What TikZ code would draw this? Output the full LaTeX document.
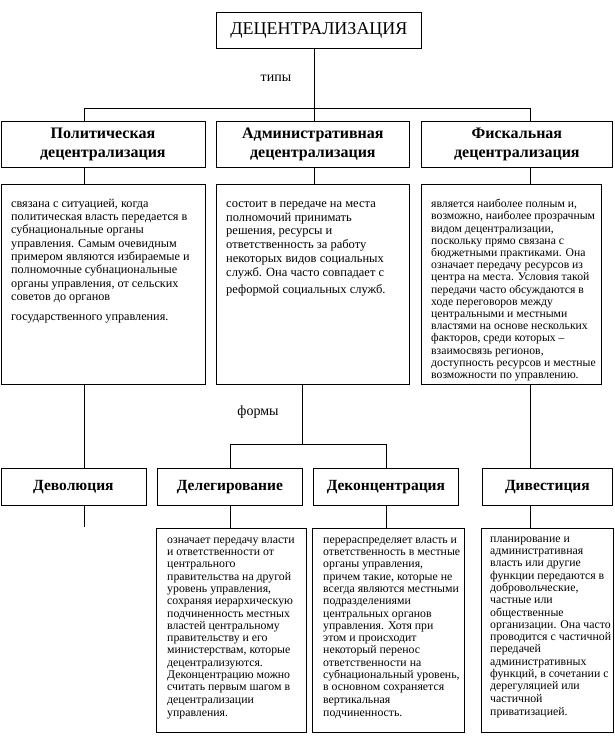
\documentclass[tikz,border=0pt]{standalone}
\usepackage{fontspec}
\setmainfont{Liberation Serif}
\newcommand{\firststrut}{\rule{0pt}{9pt}}
\begin{document}
\begin{tikzpicture}[x=1pt,y=-1pt,
  frame/.style={draw, line width=0.8pt, inner sep=0pt, anchor=north west},
  conn/.style={line width=0.8pt},
  headtxt/.style={font=\fontsize{16}{19}\selectfont\bfseries, align=center},
  formtxt/.style={font=\fontsize{15.5}{18}\selectfont\bfseries},
  poltxt/.style={anchor=north west, inner sep=0pt, align=left, font=\fontsize{12.2}{13.3}\selectfont},
  admtxt/.style={anchor=north west, inner sep=0pt, align=left, font=\fontsize{12.5}{13.8}\selectfont},
  fisctxt/.style={anchor=north west, inner sep=0pt, align=left, font=\fontsize{11.7}{12.2}\selectfont},
  smalltxt/.style={anchor=north west, inner sep=0pt, align=left, font=\fontsize{11.8}{12.3}\selectfont},
  lbl/.style={inner sep=0pt, font=\fontsize{14}{16}\selectfont}
]
\useasboundingbox (0,0) rectangle (615,744);

% column coordinates
\coordinate (c1) at (84,0);
\coordinate (c2) at (314,0);
\coordinate (c2b) at (302,0);
\coordinate (c3) at (530,0);
\coordinate (bar) at (0,108);
\coordinate (fbar) at (0,444);
\coordinate (devend) at (84,527);

% title
\node[frame, minimum width=205pt, minimum height=36pt, font=\fontsize{18}{21}\selectfont] (title) at (216,12) {ДЕЦЕНТРАЛИЗАЦИЯ};

% header boxes
\node[frame, minimum width=204pt, minimum height=46pt, headtxt] (pol) at (0.5,121) {Политическая\\децентрализация};
\node[frame, minimum width=193pt, minimum height=46pt, headtxt] (adm) at (216,121) {Административная\\децентрализация};
\node[frame, minimum width=191pt, minimum height=46pt, headtxt] (fis) at (421,121) {Фискальная\\децентрализация};

% description boxes
\node[frame, minimum width=204pt, minimum height=200pt] (pold) at (0.5,184) {};
\node[frame, minimum width=193pt, minimum height=200pt] (admd) at (216,184) {};
\node[frame, minimum width=180pt, minimum height=200pt] (fisd) at (421,184) {};

\node[poltxt] (poltext) at (11,198) {\firststrut связана с ситуацией, когда\\
политическая власть передается в\\
субнациональные органы\\
управления. Самым очевидным\\
примером являются избираемые и\\
полномочные субнациональные\\
органы управления, от сельских\\
советов до органов\\[6.5pt]
государственного управления.};

\node[admtxt] (admtext) at (226,198) {\firststrut состоит в передаче на места\\
полномочий принимать\\
решения, ресурсы и\\
ответственность за работу\\
некоторых видов социальных\\
служб. Она часто совпадает с\\[3pt]
реформой социальных служб.};

\node[fisctxt] (fistext) at (431,198.5) {\firststrut является наиболее полным и,\\
возможно, наиболее прозрачным\\
видом децентрализации,\\
поскольку прямо связана с\\
бюджетными практиками. Она\\
означает передачу ресурсов из\\
центра на места. Условия такой\\
передачи часто обсуждаются в\\
ходе переговоров между\\
центральными и местными\\
властями на основе нескольких\\
факторов, среди которых –\\
взаимосвязь регионов,\\
доступность ресурсов и местные\\
возможности по управлению.};

% forms boxes
\node[frame, minimum width=145pt, minimum height=37pt, formtxt] (dev) at (0.5,468) {Деволюция};
\node[frame, minimum width=145pt, minimum height=37pt, formtxt] (del) at (157,468) {Делегирование};
\node[frame, minimum width=145pt, minimum height=37pt, formtxt] (dec) at (313,468) {Деконцентрация};
\node[frame, minimum width=130pt, minimum height=37pt, formtxt] (div) at (482,468) {Дивестиция};

% lower description boxes
\node[frame, minimum width=150pt, minimum height=204pt] (deld) at (156,528) {};
\node[frame, minimum width=152pt, minimum height=204pt] (decd) at (312,528) {};
\node[frame, minimum width=132pt, minimum height=204pt] (divd) at (481,528) {};

\node[smalltxt] (deltext) at (167,534) {\firststrut означает передачу власти\\
и ответственности от\\
центрального\\
правительства на другой\\
уровень управления,\\
сохраняя иерархическую\\
подчиненность местных\\
властей центральному\\
правительству и его\\
министерствам, которые\\
децентрализуются.\\
Деконцентрацию можно\\
считать первым шагом в\\
децентрализации\\[1.5pt]
управления.};

\node[smalltxt] (dectext) at (323,534) {\firststrut перераспределяет власть и\\
ответственность в местные\\
органы управления,\\
причем такие, которые не\\
всегда являются местными\\
подразделениями\\
центральных органов\\
управления. Хотя при\\
этом и происходит\\
некоторый перенос\\
ответственности на\\
субнациональный уровень,\\
в основном сохраняется\\
вертикальная\\[1.5pt]
подчиненность.};

\node[smalltxt] (divtext) at (490,533) {\firststrut планирование и\\
административная\\
власть или другие\\
функции передаются в\\
добровольческие,\\
частные или\\
общественные\\
организации. Она часто\\
проводится с частичной\\
передачей\\
административных\\
функций, в сочетании с\\
дерегуляцией или\\
частичной\\[1.5pt]
приватизацией.};

% labels
\node[lbl] (types) at (276,78) {типы};
\node[lbl] (forms) at (258,412) {формы};

% connectors
\draw[conn] (title.south -| c2) -- (adm.north -| c2);
\draw[conn] (pol.north -| c1) -- (bar -| c1) -- (bar -| c3) -- (fis.north -| c3);
\draw[conn] (pol.south -| c1) -- (pold.north -| c1);
\draw[conn] (adm.south -| c2) -- (admd.north -| c2);
\draw[conn] (fis.south -| c3) -- (fisd.north -| c3);

\draw[conn] (pold.south -| c1) -- (dev.north -| c1);
\draw[conn] (admd.south -| c2b) -- (fbar -| c2b);
\draw[conn] (del.north) -- (del.north |- fbar) -- (dec.north |- fbar) -- (dec.north);
\draw[conn] (fisd.south -| c3) -- (div.north -| c3);

\draw[conn] (dev.south -| c1) -- (devend);
\draw[conn] (del.south) -- (del.south |- deld.north);
\draw[conn] (dec.south) -- (dec.south |- decd.north);
\draw[conn] (div.south -| c3) -- (divd.north -| c3);
\end{tikzpicture}
\end{document}
